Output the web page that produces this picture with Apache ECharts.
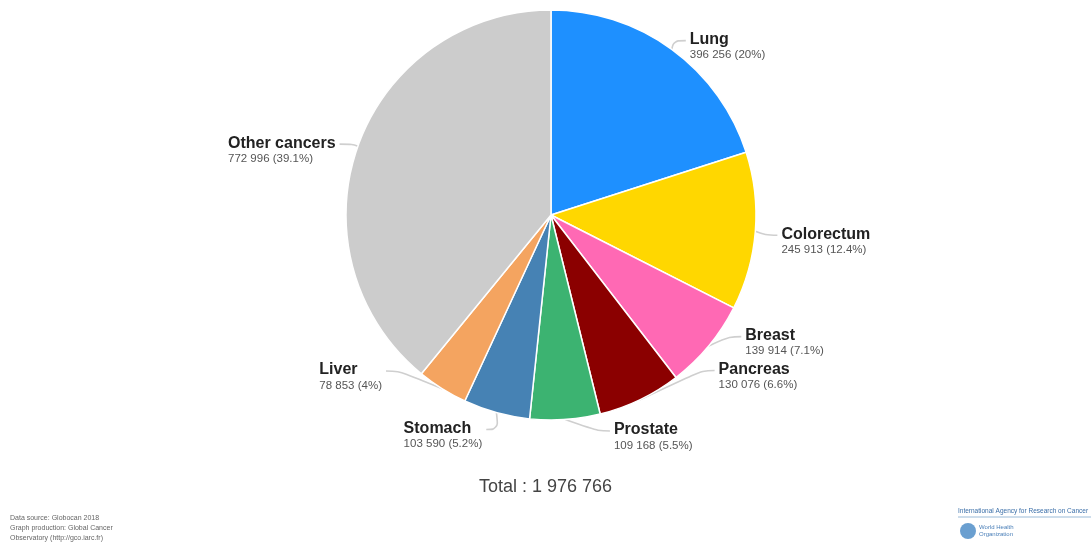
<!DOCTYPE html>
<html>
<head>
<meta charset="utf-8">
<script src="https://cdn.jsdelivr.net/npm/echarts@6/dist/echarts.min.js"></script>
<style>html,body{margin:0;padding:0;background:#fff;}#c{width:1091px;height:550px;}</style>
</head>
<body>
<div id="c"></div>
<script>
const categories = ['Lung', 'Colorectum', 'Breast', 'Pancreas', 'Prostate', 'Stomach', 'Liver', 'Other cancers'];
const values = [396256, 245913, 139914, 130076, 109168, 103590, 78853, 772996];
const colors = ['#1E90FF', '#FFD700', '#FF69B4', '#8B0000', '#3CB371', '#4682B4', '#F4A460', '#CCCCCC'];
const totalLabel = 'Total : ';
// label nudges (style only), per category
const labelNudge = [[-8, 7], [0, 9], [8, -11], [42, -34], [29, -5], [8, 5], [-30, -22], [8, 8]];

const total = values.reduce((a, b) => a + b, 0);
const fmtNum = n => String(n).replace(/\B(?=(\d{3})+(?!\d))/g, ' ');
const fmtPct = v => { let s = (v / total * 100).toFixed(1); if (s.endsWith('.0')) s = s.slice(0, -2); return s + '%'; };
const CX = 551;

const chart = echarts.init(document.getElementById('c'), null, { renderer: 'canvas' });
chart.setOption({
  backgroundColor: '#ffffff',
  animation: false,
  textStyle: { fontFamily: 'Liberation Sans, Arial, sans-serif' },
  graphic: [
    { type: 'text', left: 'center', top: 478, style: { text: totalLabel + fmtNum(total), font: '18px "Liberation Sans", Arial, sans-serif', fill: '#444' } },
    { type: 'text', left: 10, top: 513, style: { text: 'Data source: Globocan 2018\nGraph production: Global Cancer\nObservatory (http://gco.iarc.fr)', font: '7px "Liberation Sans", Arial, sans-serif', fill: '#666', lineHeight: 10 } },
    { type: 'text', left: 958, top: 508, style: { text: 'International Agency for Research on Cancer', font: '6.5px "Liberation Sans", Arial, sans-serif', fill: '#3a6ea8' } },
    { type: 'line', shape: { x1: 958, y1: 517, x2: 1091, y2: 517 }, style: { stroke: '#9bbbd8', lineWidth: 1 } },
    { type: 'circle', shape: { cx: 968, cy: 531, r: 8 }, style: { fill: '#6a9fd0' } },
    { type: 'text', left: 979, top: 524, style: { text: 'World Health\nOrganization', font: '6px "Liberation Sans", Arial, sans-serif', fill: '#4a7fb8', lineHeight: 7 } }
  ],
  series: [{
    type: 'pie',
    center: [CX, 215],
    radius: [0, 205],
    startAngle: 90,
    clockwise: true,
    avoidLabelOverlap: true,
    itemStyle: { borderColor: '#ffffff', borderWidth: 1.5 },
    data: categories.map((c, i) => ({ name: c, value: values[i], itemStyle: { color: colors[i] } })),
    label: {
      show: true,
      formatter: p => '{n|' + p.name + '}\n{v|' + fmtNum(p.value) + ' (' + fmtPct(p.value) + ')}',
      rich: {
        n: { fontSize: 16, fontWeight: 'bold', color: '#222', align: 'left', lineHeight: 17, fontFamily: 'Liberation Sans, Arial, sans-serif' },
        v: { fontSize: 11.5, color: '#555', align: 'left', lineHeight: 14, fontFamily: 'Liberation Sans, Arial, sans-serif' }
      }
    },
    labelLayout: p => {
      const [dx, dy] = labelNudge[p.dataIndex];
      const r = p.labelRect;
      const pts = p.labelLinePoints;
      const out = { dx, dy };
      if (pts && pts.length) {
        const p0 = pts[0];
        const right = p0[0] >= CX;
        const ex = right ? r.x + dx - 4 : r.x + r.width + dx + 4;
        const ey = r.y + dy + 9;
        const mx = right ? ex - 12 : ex + 12;
        out.labelLinePoints = [p0, [mx, ey], [ex, ey]];
      }
      return out;
    },
    labelLine: { show: true, length: 12, length2: 14, smooth: 0.4, lineStyle: { color: '#cfcfcf', width: 1.6 } }
  }]
});
</script>
</body>
</html>
